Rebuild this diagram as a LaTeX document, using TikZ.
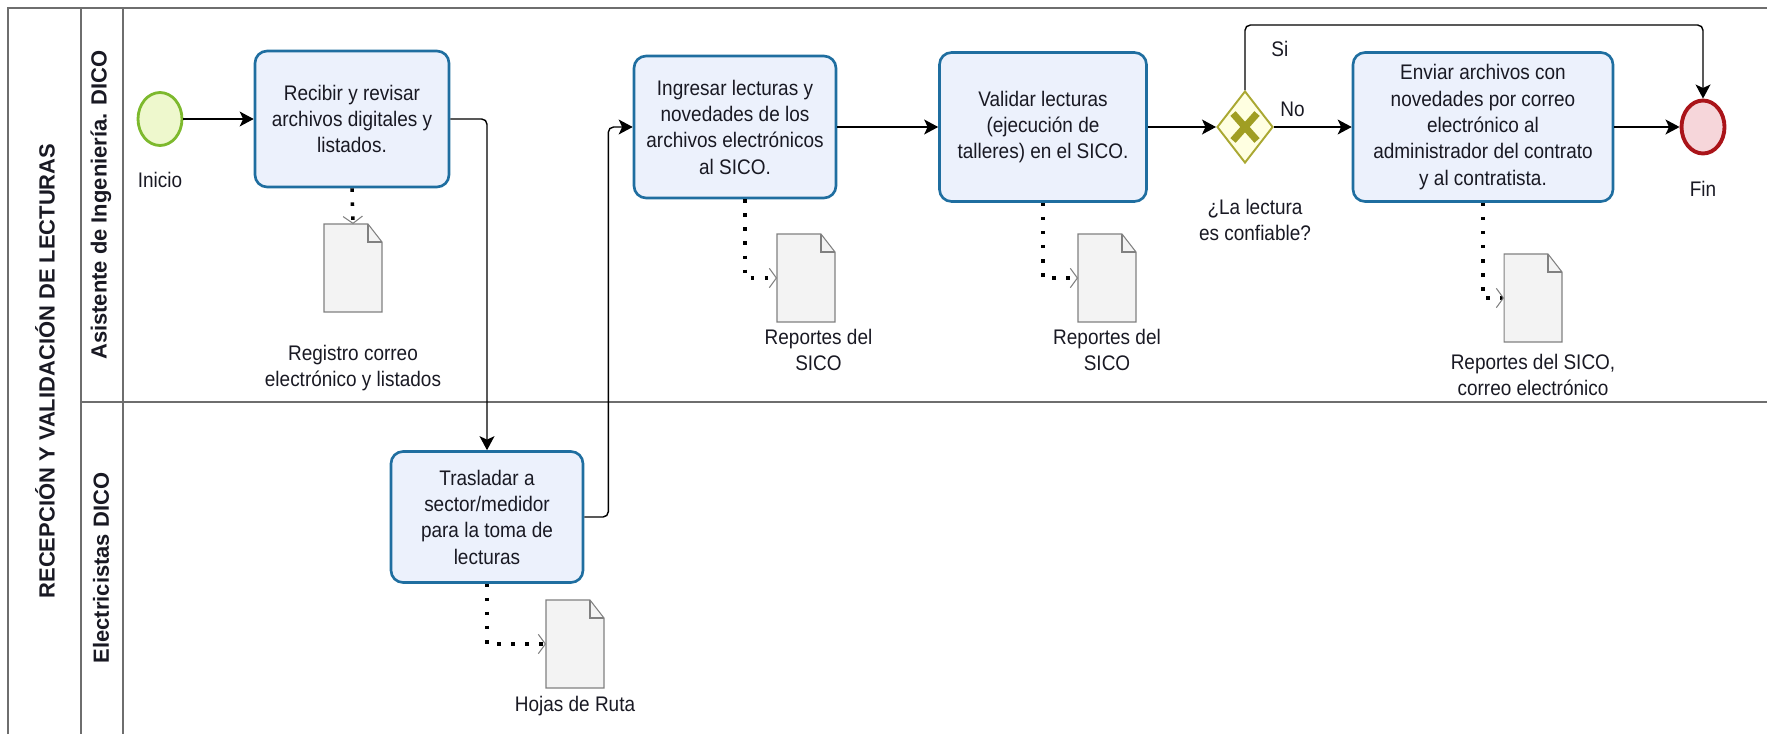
\documentclass[tikz,border=0pt]{standalone}
\usepackage{fontspec}
\setmainfont{Liberation Sans}[FakeStretch=0.9]
\newfontfamily\headfont{Liberation Sans}
\usepackage{tikz}
\usetikzlibrary{positioning, arrows.meta, shapes.geometric}

\definecolor{lanegray}{RGB}{110,110,110}
\definecolor{taskblue}{RGB}{31,110,160}
\definecolor{taskfill}{RGB}{236,241,252}
\definecolor{startgreen}{RGB}{125,185,45}
\definecolor{startfill}{RGB}{238,248,205}
\definecolor{endred}{RGB}{170,20,25}
\definecolor{endfill}{RGB}{246,214,218}
\definecolor{gateolive}{RGB}{170,168,50}
\definecolor{gatefill}{RGB}{255,255,225}
\definecolor{gatex}{RGB}{160,158,35}
\definecolor{docgray}{RGB}{128,128,128}
\definecolor{docfill}{RGB}{243,243,243}
\definecolor{txt}{RGB}{25,25,35}

\tikzset{
  lane/.style={draw=lanegray, line width=1pt},
  lanetxt/.style={font=\headfont\fontsize{12.5}{15}\selectfont\bfseries, text=txt},
  task/.style={rectangle, rounded corners=0.24cm, draw=taskblue, line width=1.5pt,
    fill=taskfill, align=center, text=txt, font=\fontsize{12}{15}\selectfont},
  startev/.style={ellipse, draw=startgreen, fill=startfill, line width=1.6pt,
    minimum width=0.88cm, minimum height=1.06cm, inner sep=0},
  endev/.style={ellipse, draw=endred, fill=endfill, line width=2.2pt,
    minimum width=0.86cm, minimum height=1.06cm, inner sep=0},
  gate/.style={diamond, aspect=0.78, draw=gateolive, fill=gatefill, line width=1.1pt,
    minimum width=1.12cm, minimum height=1.44cm, inner sep=0},
  docu/.style={rectangle, minimum width=1.16cm, minimum height=1.76cm, inner sep=0, outer sep=0},
  docline/.style={draw=docgray, fill=docfill, line width=0.6pt},
  lbl/.style={font=\fontsize{12}{15}\selectfont, align=center, inner sep=1pt, text=txt},
  flow/.style={->, line width=0.8pt, rounded corners=3pt},
  assoc/.style={line width=2pt, dash pattern=on 2pt off 6pt,
    -{Straight Barb[length=4pt, width=11pt, line width=0.6pt, color=docgray]}},
}

\begin{document}
\begin{tikzpicture}[x=0.02cm, y=-0.02cm, >={Stealth[length=8pt, width=8.5pt, inset=2pt]}]
    \useasboundingbox (0,0) rectangle (1767,734);

    % pool and lanes
    \draw[lane] (8,734) -- (8,8) -- (1767,8);
    \draw[lane] (81,8) -- (81,734);
    \draw[lane] (123,8) -- (123,734);
    \draw[lane] (81,402) -- (1767,402);
    \node[lanetxt, rotate=90] (pool) at (45,371) {RECEPCIÓN Y VALIDACIÓN DE LECTURAS};
    \node[lanetxt, rotate=90] (lane1) at (101,205) {Asistente de Ingeniería. DICO};
    \node[lanetxt, rotate=90] (lane2) at (101,568) {Electricistas DICO};

    \node[startev] (ini) at (160,119) {};
    \node[lbl, below=0.47cm of ini] {Inicio};

    \node[task, minimum width=3.88cm, minimum height=2.72cm] (1) at (352,119)
        {Recibir y revisar\\archivos digitales y\\listados.};
    \node[task, minimum width=3.84cm, minimum height=2.62cm] (4) at (487,517)
        {Trasladar a\\sector/medidor\\para la toma de\\lecturas};
    \node[task, minimum width=4.04cm, minimum height=2.84cm] (2) at (735,127)
        {Ingresar lecturas y\\novedades de los\\archivos electrónicos\\al SICO.};
    \node[task, minimum width=4.14cm, minimum height=2.98cm] (3) at (1043,127)
        {Validar lecturas\\(ejecución de\\talleres) en el SICO.};
    \node[gate] (g) at (1245,127) {};
    \node[lbl, below=0.66cm of g, xshift=0.2cm] {¿La lectura\\es confiable?};
    \node[task, minimum width=5.2cm, minimum height=2.98cm] (5) at (1483,127)
        {Enviar archivos con\\novedades por correo\\electrónico al\\administrador del contrato\\y al contratista.};
    \node[endev] (fin) at (1703,127) {};
    \node[lbl, below=0.48cm of fin] {Fin};

    % documents
    \node[docu] (d1) at (353,268) {};
    \node[docu] (d2) at (806,278) {};
    \node[docu] (d3) at (1107,278) {};
    \node[docu] (d4) at (575,644) {};
    \node[docu] (d5) at (1533,298) {};
    \foreach \d in {d1,d2,d3,d4,d5}{
        \draw[docline] (\d.north west) -- ([xshift=-0.28cm]\d.north east) -- ([yshift=-0.36cm]\d.north east)
            -- (\d.south east) -- (\d.south west) -- cycle;
        \draw[docline, fill=none] ([xshift=-0.28cm]\d.north east) |- ([yshift=-0.36cm]\d.north east);
    }
    \node[lbl, below=0.62cm of d1] {Registro correo\\electrónico y listados};
    \node[lbl, below=0.1cm of d2, xshift=0.25cm] {Reportes del\\SICO};
    \node[lbl, below=0.1cm of d3] {Reportes del\\SICO};
    \node[lbl, below=0.12cm of d4] {Hojas de Ruta};
    \node[lbl, below=0.2cm of d5] {Reportes del SICO,\\correo electrónico};

    % gateway mark
    \draw[gatex, line width=4pt] ([xshift=-0.24cm, yshift=0.27cm]g.center) -- ([xshift=0.24cm, yshift=-0.27cm]g.center);
    \draw[gatex, line width=4pt] ([xshift=-0.24cm, yshift=-0.27cm]g.center) -- ([xshift=0.24cm, yshift=0.27cm]g.center);

    % sequence flow
    \draw[flow] (ini) -- (1);
    \draw[flow] (1.east) -| (4.north);
    \draw[flow] (4.east) -- ++(24,0) |- (2.west);
    \draw[flow] (2) -- (3);
    \draw[flow] (3) -- (g);
    \draw[flow] (g.east) -- node[pos=0, above right=0.16cm and 0.08cm, lbl] {No} (5.west);
    \draw[flow] (g.north) -- ++(0,-65) node[pos=0.63, right=0.48cm, lbl] {Si} -| (fin.north);
    \draw[flow] (5) -- (fin);

    % associations
    \draw[assoc] (1.south) -- (d1.north);
    \draw[assoc] ([xshift=0.2cm]2.south) |- (d2.west);
    \draw[assoc] (3.south) |- (d3.west);
    \draw[assoc] (4.south) |- (d4.west);
    \draw[assoc] (5.south) |- (d5.west);
\end{tikzpicture}
\end{document}
